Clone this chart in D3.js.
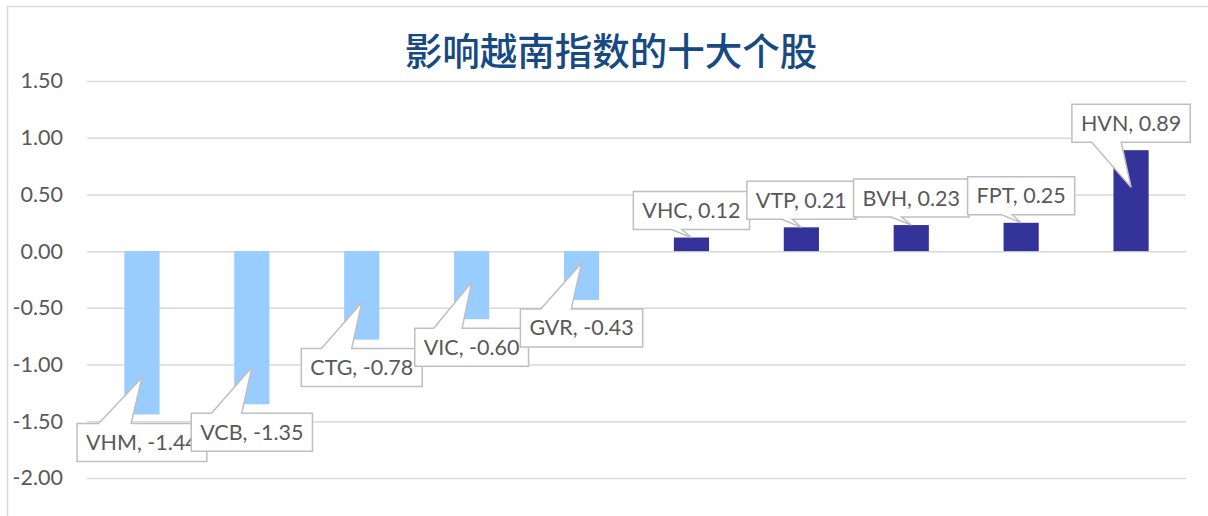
<!DOCTYPE html>
<html>
<head>
<meta charset="utf-8">
<script src="https://cdn.jsdelivr.net/npm/d3@7"></script>
<style>
  html, body { margin: 0; padding: 0; background: #fff; }
  svg { display: block; }
</style>
</head>
<body>
<svg id="chart" width="1208" height="516"></svg>
<script>
// chart data
var stocks = ['VHM', 'VCB', 'CTG', 'VIC', 'GVR', 'VHC', 'VTP', 'BVH', 'FPT', 'HVN'];
var impact = [-1.44, -1.35, -0.78, -0.60, -0.43, 0.12, 0.21, 0.23, 0.25, 0.89];
var yTicks = [1.5, 1.0, 0.5, 0, -0.5, -1.0, -1.5, -2.0];
var title = '影响越南指数的十大个股';

var negColor = '#99CCFF', posColor = '#333399';
var textColor = '#595959', gridColor = '#D9D9D9', boxLine = '#BFBFBF';
var labelFont = 'Lato, "Liberation Sans", sans-serif';

var svg = d3.select('#chart');

// outer chart frame (right/bottom edges fall outside the picture)
svg.append('rect')
  .attr('x', 7.5).attr('y', 6.5)
  .attr('width', 1260).attr('height', 560)
  .attr('fill', '#fff')
  .attr('stroke', gridColor).attr('stroke-width', 1.5);

var x = d3.scaleBand()
  .domain(stocks)
  .range([87, 1186])
  .paddingInner(0.68)
  .paddingOuter(0.34);

var y = d3.scaleLinear()
  .domain([-2, 1.5])
  .range([478, 81]);

// gridlines
svg.append('g')
  .attr('transform', 'translate(87,0)')
  .call(d3.axisLeft(y).tickValues(yTicks).tickSize(-1099).tickFormat(''))
  .call(g => g.select('.domain').remove())
  .call(g => g.selectAll('line').attr('stroke', gridColor).attr('stroke-width', 1.5));

// y axis labels
svg.append('g')
  .attr('transform', 'translate(87,0)')
  .call(d3.axisLeft(y).tickValues(yTicks).tickSize(0).tickPadding(24)
    .tickFormat(d => d.toFixed(2)))
  .call(g => g.select('.domain').remove())
  .call(g => g.selectAll('text')
    .attr('fill', textColor)
    .style('font-family', labelFont)
    .style('font-size', '21.5px'));

// title
svg.append('text')
  .attr('x', 611).attr('y', 65)
  .attr('text-anchor', 'middle')
  .attr('fill', '#174A82')
  .style('font-family', '"Noto Sans CJK SC", sans-serif')
  .style('font-weight', 500)
  .style('font-size', '37.5px')
  .text(title);

var rows = stocks.map((s, i) => ({ name: s, value: impact[i] }));

// bars
svg.append('g')
  .selectAll('rect')
  .data(rows)
  .join('rect')
    .attr('x', d => x(d.name))
    .attr('width', x.bandwidth())
    .attr('y', d => y(Math.max(0, d.value)))
    .attr('height', d => Math.abs(y(d.value) - y(0)))
    .attr('fill', d => d.value < 0 ? negColor : posColor);

// callout data labels
var boxH = 38, pad = 9;
var labels = svg.append('g');

rows.forEach(function(d) {
  var cx = x(d.name) + x.bandwidth() / 2;
  var yEnd = y(d.value);
  var barH = Math.abs(yEnd - y(0));
  var inset = barH > 40 ? 37 : 0;
  var neg = d.value < 0;
  var tipY = neg ? yEnd - inset : yEnd + inset;
  var boxCy = neg ? yEnd + 28 : yEnd - 27;

  var g = labels.append('g');
  var path = g.append('path');
  var txt = g.append('text')
    .attr('x', cx)
    .attr('y', boxCy + 7.5)
    .attr('text-anchor', 'middle')
    .attr('fill', textColor)
    .style('font-family', labelFont)
    .style('font-size', '21.5px')
    .text(d.name + ', ' + d.value.toFixed(2));

  var w = txt.node().getComputedTextLength() + 2 * pad;
  var x0 = cx - w / 2, x1 = cx + w / 2;
  var y0 = boxCy - boxH / 2, y1 = boxCy + boxH / 2;
  var dist = neg ? Math.abs(y0 - tipY) : Math.abs(tipY - y1);
  var baseR = x0 + w * 5 / 12;
  var baseL = Math.max(x0 + w * 2 / 12, baseR - 1.3 * dist);
  var tipX = cx;

  var p = neg
    ? ['M', x0, y0, 'H', baseL, 'L', tipX, tipY, 'L', baseR, y0, 'H', x1, 'V', y1, 'H', x0, 'Z']
    : ['M', x0, y0, 'H', x1, 'V', y1, 'H', baseR, 'L', tipX, tipY, 'L', baseL, y1, 'H', x0, 'Z'];

  path.attr('d', p.join(' '))
    .attr('fill', '#fff')
    .attr('stroke', boxLine)
    .attr('stroke-width', 1.5)
    .attr('stroke-linejoin', 'miter');
});
</script>
</body>
</html>
